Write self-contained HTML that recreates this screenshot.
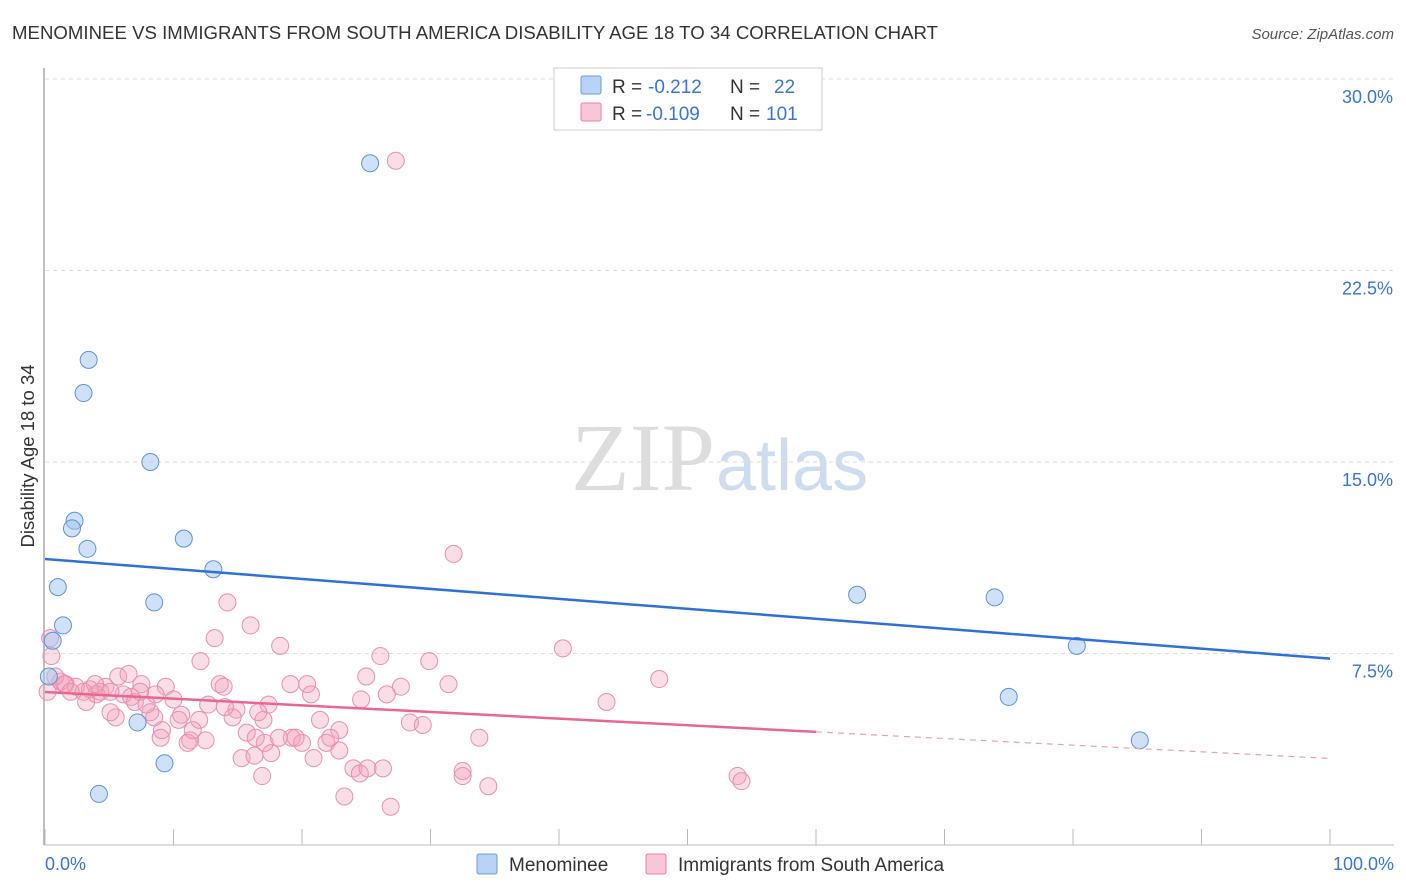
<!DOCTYPE html>
<html><head><meta charset="utf-8"><style>
body{margin:0;background:#fff;font-family:"Liberation Sans",sans-serif}
svg{display:block}
</style></head><body>
<svg id="c" width="1406" height="892">
<text x="12" y="39" font-size="18.6" fill="#333" textLength="926">MENOMINEE VS IMMIGRANTS FROM SOUTH AMERICA DISABILITY AGE 18 TO 34 CORRELATION CHART</text>
<text x="1394" y="39" font-size="15" fill="#555" font-style="italic" text-anchor="end">Source: ZipAtlas.com</text>
<text x="715" y="490" font-size="96" fill="#ddd" text-anchor="end" font-family="Liberation Serif,serif">ZIP</text>
<text x="716" y="490" font-size="72" fill="#cfdcf0">atlas</text>
<text transform="translate(34,456) rotate(-90)" font-size="18.5" fill="#333" text-anchor="middle">Disability Age 18 to 34</text>
<g id="grid"></g><g id="pts"></g><g id="lines"></g>
<g>
<rect x="554" y="68" width="268" height="62" fill="#fff" stroke="#ccc"/>
<rect x="581" y="76" width="20" height="18" fill="#b8d3f5" stroke="#6a9de0" rx="2"/>
<rect x="581" y="103" width="20" height="18" fill="#f9c6d6" stroke="#e8809f" rx="2"/>
<text x="612" y="93" font-size="19" fill="#333">R =</text>
<text x="648" y="93" font-size="19" fill="#3a75d0">-0.212</text>
<text x="730" y="93" font-size="19" fill="#333">N =</text>
<text x="774" y="93" font-size="19" fill="#3a75d0">22</text>
<text x="612" y="120" font-size="19" fill="#333">R =</text>
<text x="646" y="120" font-size="19" fill="#3a75d0">-0.109</text>
<text x="730" y="120" font-size="19" fill="#333">N =</text>
<text x="766" y="120" font-size="19" fill="#3a75d0">101</text>
</g>
<g>
<rect x="477" y="854" width="20" height="20" fill="#b8d3f5" stroke="#6a9de0" rx="2"/>
<text x="509" y="871" font-size="19" fill="#333">Menominee</text>
<rect x="646" y="854" width="20" height="20" fill="#f9c6d6" stroke="#e8809f" rx="2"/>
<text x="678" y="871" font-size="19" fill="#333">Immigrants from South America</text>
</g>
<text x="45" y="870" font-size="18" fill="#3a75d0">0.0%</text>
<text x="1394" y="870" font-size="18" fill="#3a75d0" text-anchor="end">100.0%</text>
</svg>
<script>
const yTicks=[7.5,15,22.5,30];
const yTickLabels=["7.5%","15.0%","22.5%","30.0%"];
const xTicks=[0,10,20,30,40,50,60,70,80,90,100];
const blueX=[25.3,3.4,3.0,8.2,2.3,2.1,3.3,10.8,13.1,1.0,8.5,1.4,0.6,0.3,7.2,9.3,4.2,63.2,73.9,80.3,75.0,85.2];
const blueY=[26.7,19.0,17.7,15.0,12.7,12.4,11.6,12.0,10.8,10.1,9.5,8.6,8.0,6.6,4.8,3.2,2.0,9.8,9.7,7.8,5.8,4.1];
const pinkX=[27.3,31.8,14.2,16.0,13.2,40.3,18.3,26.1,29.9,12.1,5.7,6.5,25.0,47.8,13.6,20.4,19.1,7.5,13.9,27.7,9.4,20.7,4.7,26.6,1.2,1.6,2.4,3.5,4.0,3.0,6.1,6.7,7.0,8.6,12.7,14.9,17.4,24.6,43.7,3.2,5.5,5.1,8.2,8.5,10.6,10.4,12.0,14.6,17.0,21.4,22.9,28.4,29.4,9.1,9.0,15.7,17.1,19.2,20.0,21.9,22.2,19.5,11.3,12.5,18.2,11.1,16.4,20.9,22.9,15.3,16.3,17.6,33.8,24.0,24.5,25.1,26.3,32.5,32.5,53.9,54.2,16.9,34.5,23.3,26.9,0.4,0.5,0.8,0.2,7.4,4.3,5.1,1.5,2.0,3.9,7.9,10.0,11.5,14.0,16.6,31.4];
const pinkY=[26.8,11.4,9.5,8.6,8.1,7.7,7.8,7.4,7.2,7.2,6.6,6.7,6.6,6.5,6.3,6.3,6.3,6.3,6.2,6.2,6.2,5.9,6.2,5.9,6.4,6.3,6.2,6.1,5.9,6.0,5.9,5.8,5.6,5.9,5.5,5.3,5.5,5.7,5.6,5.6,5.0,5.2,5.2,5.0,5.1,4.9,4.9,5.0,4.9,4.9,4.5,4.8,4.7,4.5,4.2,4.4,4.0,4.2,4.0,4.0,4.2,4.2,4.1,4.1,4.2,4.0,4.2,3.4,3.7,3.4,3.5,3.6,4.2,3.0,2.8,3.0,3.0,2.9,2.7,2.7,2.5,2.7,2.3,1.9,1.5,8.1,7.4,6.6,6.0,6.0,6.0,6.0,6.3,6.0,6.3,5.5,5.7,4.5,5.4,5.2,6.3];
const X0=45,X1=1330,Y0=845,Y30=79;
const sx=v=>X0+(X1-X0)*v/100, sy=v=>Y0-(Y0-Y30)*v/30;
const NS="http://www.w3.org/2000/svg";
function mk(t,a,p){const e=document.createElementNS(NS,t);for(const k in a)e.setAttribute(k,a[k]);p.appendChild(e);return e;}
const g=document.getElementById('grid');
let ax=mk('line',{x1:44,y1:68,x2:44,y2:845,stroke:'#aaa','stroke-width':1.5},g);


let bx=mk('line',{x1:44,y1:845,x2:1394,y2:845,stroke:'#bbb','stroke-width':1},g);


yTicks.forEach((t,i)=>{
 const gl=mk('line',{x1:45,y1:sy(t),x2:1394,y2:sy(t),stroke:'#ddd','stroke-dasharray':'4,4'},g);
 
 
 const tx=mk('text',{x:1393,y:sy(t)+24,'font-size':18,fill:'#3a75d0','text-anchor':'end'},g);
 tx.textContent=yTickLabels[i];
 
 
});
xTicks.forEach(t=>{
 const l=mk('line',{x1:sx(t),y1:829,x2:sx(t),y2:845,stroke:'#bbb'},g);
 
 
});
const p=document.getElementById('pts');
pinkX.forEach((v,i)=>{
 const c=mk('circle',{cx:sx(v),cy:sy(pinkY[i]),r:8.5,fill:'rgba(242,160,186,0.35)',stroke:'#e890ab','stroke-width':1},p);
 
 
});
blueX.forEach((v,i)=>{
 const c=mk('circle',{cx:sx(v),cy:sy(blueY[i]),r:8.5,fill:'rgba(160,196,240,0.5)',stroke:'#5f92da','stroke-width':1},p);
 
 
});
const L=document.getElementById('lines');
const bf=[11.2,-0.039], pf=[5.99,-0.026];
let bl=mk('line',{x1:sx(0),y1:sy(bf[0]),x2:sx(100),y2:sy(bf[0]+bf[1]*100),stroke:'#2f6fd6','stroke-width':2.5},L);


let pl=mk('line',{x1:sx(0),y1:sy(pf[0]),x2:sx(60),y2:sy(pf[0]+pf[1]*60),stroke:'#e8668f','stroke-width':2.5},L);


let pd=mk('line',{x1:sx(60),y1:sy(pf[0]+pf[1]*60),x2:sx(100),y2:sy(pf[0]+pf[1]*100),stroke:'#e8a0b8','stroke-width':1.2,'stroke-dasharray':'6,5'},L);


</script>
</body></html>
